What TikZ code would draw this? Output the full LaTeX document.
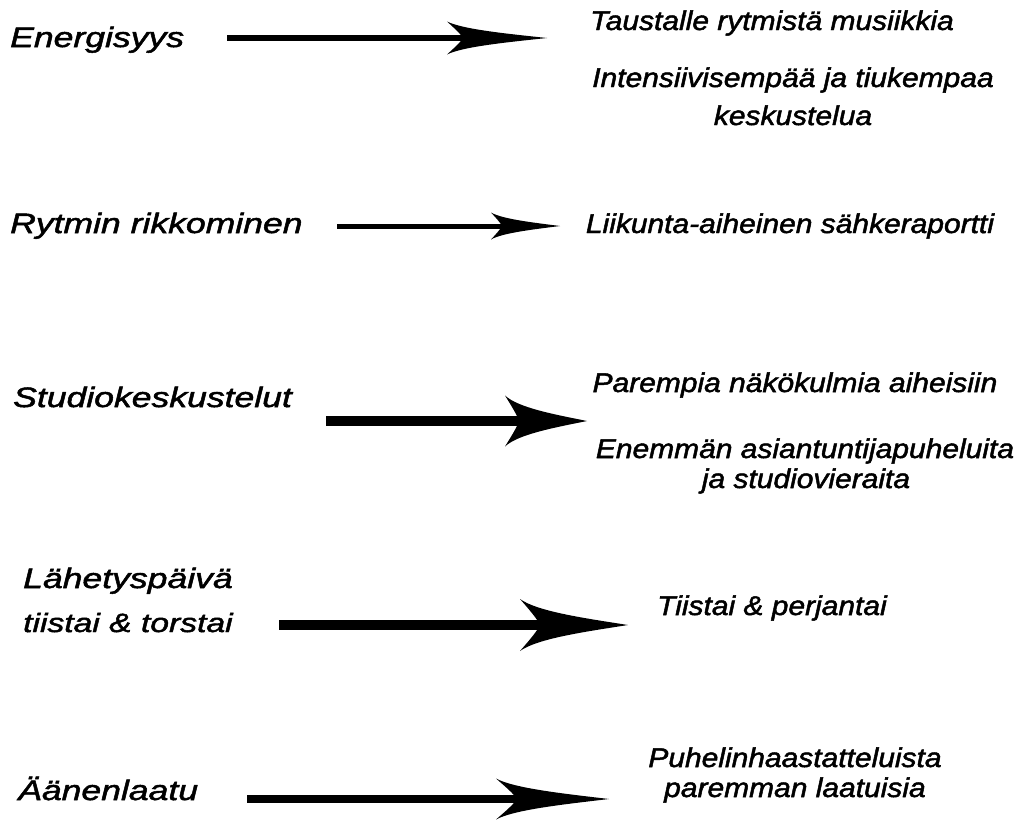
\documentclass[tikz,border=0pt]{standalone}
\usepackage{fontspec}
\usetikzlibrary{arrows.meta}
\newfontfamily\lfont{Liberation Sans}[FakeStretch=1.27,FakeBold=1.8]
\newfontfamily\rfont{Liberation Sans}[FakeStretch=1.11,FakeBold=1.8]
\newdimen\swL \newdimen\swW \newdimen\swN \newdimen\swBa \newdimen\swBb
\pgfdeclarearrow{
  name = Swoop,
  parameters = {\the\pgfarrowlength,\the\pgfarrowwidth,\the\pgfarrowinset},
  setup code = {
    \pgfarrowssettipend{0pt}
    \pgfarrowssetbackend{-\pgfarrowlength}
    \swL=\pgfarrowlength \advance\swL by -\pgfarrowinset \advance\swL by -1pt
    \pgfarrowssetlineend{-\swL}
    \pgfarrowssavethe\pgfarrowlength
    \pgfarrowssavethe\pgfarrowwidth
    \pgfarrowssavethe\pgfarrowinset
  },
  drawing code = {
    \swL=\pgfarrowlength \swW=.5\pgfarrowwidth
    \swN=\pgfarrowinset \advance\swN by -\pgfarrowlength
    \swBa=.45\pgfarrowinset \advance\swBa by -\pgfarrowlength
    \swBb=.85\pgfarrowinset \advance\swBb by -\pgfarrowlength
    \pgfpathmoveto{\pgfpointorigin}
    \pgfpathcurveto{\pgfpoint{-.4\swL}{.26\swW}}{\pgfpoint{-.84\swL}{.52\swW}}{\pgfpoint{-\swL}{\swW}}
    \pgfpathcurveto{\pgfpoint{\swBa}{.6\swW}}{\pgfpoint{\swBb}{.25\swW}}{\pgfpoint{\swN}{0pt}}
    \pgfpathcurveto{\pgfpoint{\swBb}{-.25\swW}}{\pgfpoint{\swBa}{-.6\swW}}{\pgfpoint{-\swL}{-\swW}}
    \pgfpathcurveto{\pgfpoint{-.84\swL}{-.52\swW}}{\pgfpoint{-.4\swL}{-.26\swW}}{\pgfpointorigin}
    \pgfpathclose
    \pgfusepathqfill
  },
  defaults = {length=10pt, width=8pt, inset=2pt}
}
\tikzset{
  lbl/.style={anchor=base west, inner sep=0pt, font=\lfont\itshape\fontsize{28}{30}\selectfont},
  rtx/.style={anchor=base, inner sep=0pt, font=\rfont\itshape\fontsize{27}{30}\selectfont},
  conn/.style={draw=black, line cap=butt}
}
\begin{document}
\begin{tikzpicture}[x=1pt,y=-1pt]
\useasboundingbox (0,0) rectangle (1027,819);
% left labels
\node[lbl] (l1) at (10,47) {Energisyys};
\node[lbl] (l2) at (10,233) {Rytmin rikkominen};
\node[lbl] (l3) at (13,407) {Studiokeskustelut};
\node[lbl] (l4a) at (23,588) {Lähetyspäivä};
\node[lbl, font=\lfont\itshape\fontsize{26.5}{30}\selectfont] (l4b) at (23,632) {tiistai \& torstai};
\node[lbl] (l5) at (18,800) {Äänenlaatu};
% right texts
\node[rtx] (r1a) at (772,30) {Taustalle rytmistä musiikkia};
\node[rtx] (r1b) at (793,87) {Intensiivisempää ja tiukempaa};
\node[rtx] (r1c) at (793,125) {keskustelua};
\node[rtx] (r2) at (790,233) {Liikunta-aiheinen sähkeraportti};
\node[rtx] (r3a) at (795,392) {Parempia näkökulmia aiheisiin};
\node[rtx] (r3b) at (805,458) {Enemmän asiantuntijapuheluita};
\node[rtx] (r3c) at (806,488) {ja studiovieraita};
\node[rtx] (r4) at (772,615) {Tiistai \& perjantai};
\node[rtx] (r5a) at (795,767) {Puhelinhaastatteluista};
\node[rtx] (r5b) at (795,797) {paremman laatuisia};
% arrows
\coordinate (a1s) at (227,38);  \coordinate (a1e) at (547,38);
\coordinate (a2s) at (337,226); \coordinate (a2e) at (560,226);
\coordinate (a3s) at (326,421); \coordinate (a3e) at (587,421);
\coordinate (a4s) at (279,625); \coordinate (a4e) at (628,625);
\coordinate (a5s) at (247,799); \coordinate (a5e) at (609,799);
\draw[conn, line width=6pt, -{Swoop[length=100pt,width=33pt,inset=16pt]}] (a1s) -- (a1e);
\draw[conn, line width=5pt, -{Swoop[length=69pt,width=27pt,inset=11pt]}] (a2s) -- (a2e);
\draw[conn, line width=9.5pt, -{Swoop[length=82pt,width=51pt,inset=14pt]}] (a3s) -- (a3e);
\draw[conn, line width=10pt, -{Swoop[length=108pt,width=52pt,inset=20pt]}] (a4s) -- (a4e);
\draw[conn, line width=8.3pt, -{Swoop[length=113pt,width=41pt,inset=21pt]}] (a5s) -- (a5e);
\end{tikzpicture}
\end{document}
